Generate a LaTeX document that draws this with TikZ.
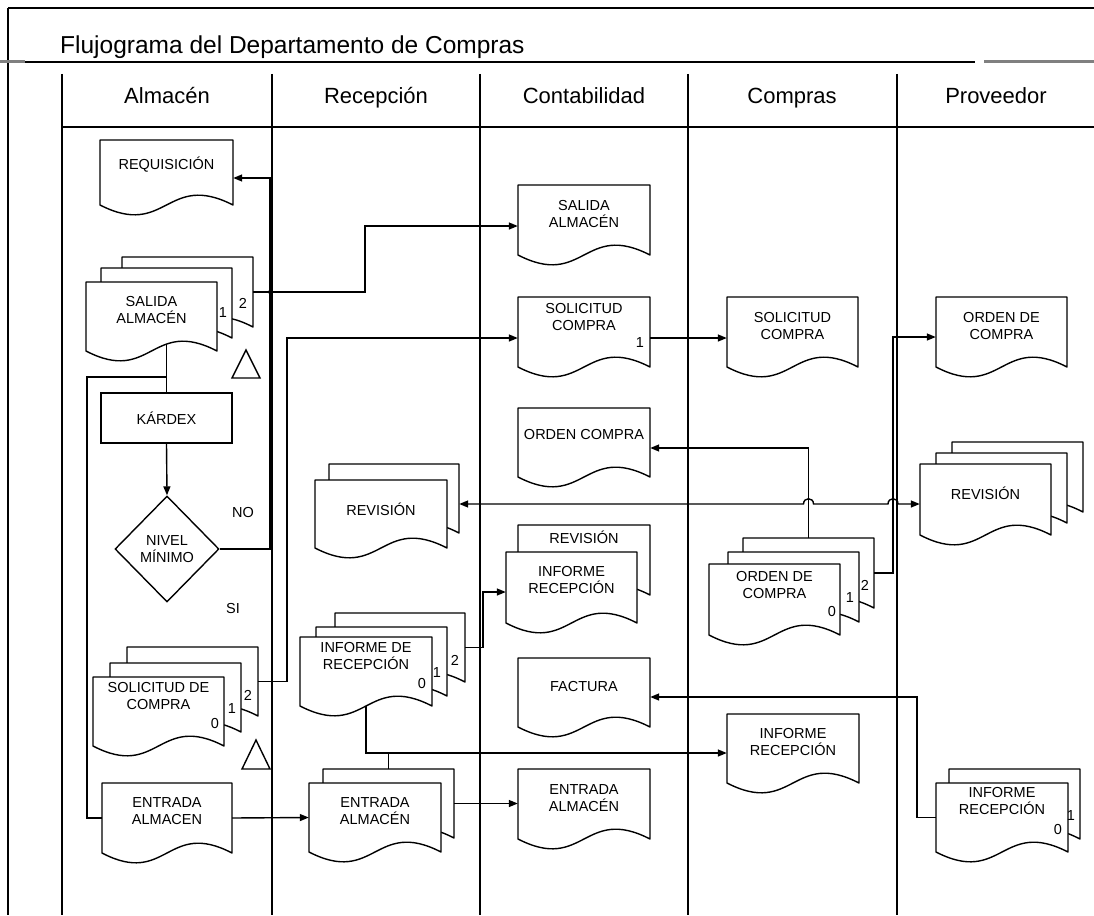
\documentclass[tikz,border=0pt]{standalone}
\usepackage{fontspec}
\setmainfont{Liberation Sans}
\usetikzlibrary{arrows.meta,calc,fit,shapes.geometric}

\tikzset{
  lane/.style={line width=1.8pt},
  pg/.style={line width=1.4pt,fill=white,line join=round},
  pgtext/.style={font=\fontsize{14.5}{17}\selectfont,align=center,inner sep=0pt},
  num/.style={font=\fontsize{14.5}{14.5}\selectfont,inner sep=0pt},
  flow/.style={line width=1.4pt},
  arr/.style={flow,-{Triangle[length=9pt,width=7pt]}},
  dblarr/.style={flow,{Triangle[length=9pt,width=7pt]}-{Triangle[length=9pt,width=7pt]}},
  hdr/.style={font=\fontsize{22}{22}\selectfont,inner sep=0pt,anchor=base},
  kbox/.style={draw,line width=1.4pt,minimum width=131pt,minimum height=50pt,font=\fontsize{14.5}{17}\selectfont},
  dmd/.style={draw,diamond,aspect=1,line width=1.4pt,minimum width=104pt,minimum height=106pt,inner sep=0pt,align=center,font=\fontsize{14.5}{17}\selectfont},
}

\newcommand{\docpg}[7][28]{%
  \draw[pg] (#3,#4) -- (#5,#4) -- (#5,#6)
    .. controls ({(#3+#5)/2},{#6-34}) and ({(#3+#5)/2},{#6+34}) .. (#3,#6) -- cycle;
  \node[fit={(#3,#4) (#5,#6)},inner sep=0pt] (#2) {};
  \node[pgtext] (#2-t) at ($(#2.north)+(0,#1)$) {#7};
}

\begin{document}
\begin{tikzpicture}[x=1pt,y=-1pt]
\useasboundingbox (0,0) rectangle (1094,915);

\draw[lane] (8,8) -- (1094,8);
\draw[lane] (8,8) -- (8,915);
\draw[line width=1.2pt] (25,62) -- (975,62);
\draw[gray,line width=3pt] (0,62) -- (25,62);
\draw[gray,line width=3pt] (984,62) -- (1094,62);
\foreach \x in {62,272,480,688,897}
  \draw[lane] (\x,74) -- (\x,915);
\draw[lane] (62,127) -- (1094,127);

\node[font=\fontsize{24.5}{24.5}\selectfont,anchor=base west,inner sep=0pt] (title) at (60,54) {Flujograma del Departamento de Compras};
\node[hdr] (h-alm) at (167,104) {Almacén};
\node[hdr] (h-rec) at (376,104) {Recepción};
\node[hdr] (h-con) at (584,104) {Contabilidad};
\node[hdr] (h-com) at (792,104) {Compras};
\node[hdr] (h-pro) at (996,104) {Proveedor};

\docpg[25]{req}{100}{140}{233}{205}{REQUISICIÓN}
\docpg{salA-c2}{122}{257}{253}{327}{}
\docpg{salA-c1}{101}{268}{232}{338}{}
\docpg{salA}{86}{282}{217}{351}{SALIDA\\ALMACÉN}
\node[num] (salA-n1) at (223,313) {1};
\node[num] (salA-n2) at (243,303) {2};
\node[kbox] (kardex) at (166.5,418) {KÁRDEX};
\node[dmd] (nivel) at (167,549) {NIVEL\\MÍNIMO};
\node[pgtext] (no-lbl) at (243,513) {NO};
\node[pgtext] (si-lbl) at (233,609) {SI};
\docpg{solD-c2}{127}{647}{258}{716}{}
\docpg{solD-c1}{110}{663}{241}{732}{}
\docpg[19]{solD}{93}{677}{224}{746}{SOLICITUD DE\\COMPRA}
\node[num] (solD-n2) at (248,695) {2};
\node[num] (solD-n1) at (232,709) {1};
\node[num] (solD-n0) at (215,723) {0};
\docpg{entA}{102}{783}{232}{853}{ENTRADA\\ALMACEN}
\draw[flow] (232,378) -- (260,378) -- (246,350) -- cycle;
\draw[flow] (242,769) -- (270,769) -- (256,740) -- cycle;

\docpg{revR-c1}{329}{464}{459}{533}{}
\docpg[29]{revR}{315}{480}{447}{548}{REVISIÓN}
\docpg{infR-c2}{335}{613}{465}{682}{}
\docpg{infR-c1}{316}{627}{447}{696}{}
\docpg[19]{infR}{300}{637}{432}{706}{INFORME DE\\RECEPCIÓN}
\node[num] (infR-n2) at (455,660) {2};
\node[num] (infR-n1) at (437,673) {1};
\node[num] (infR-n0) at (422,684) {0};
\docpg{entR-c1}{323}{769}{454}{838}{}
\docpg{entR}{309}{783}{441}{852}{ENTRADA\\ALMACÉN}

\docpg[29]{salC}{518}{185}{650}{255}{SALIDA\\ALMACÉN}
\docpg[20]{solC}{518}{297}{650}{367}{SOLICITUD\\COMPRA}
\node[num] (solC-n1) at (640,343) {1};
\docpg[27]{ordC}{518}{408}{650}{477}{ORDEN COMPRA}
\docpg[12]{infC-c1}{518}{525}{650}{595}{REVISIÓN}
\docpg{infC}{506}{552}{637}{623}{INFORME\\RECEPCIÓN}
\docpg[29]{fact}{518}{658}{650}{727}{FACTURA}
\docpg[29]{entC}{518}{769}{650}{839}{ENTRADA\\ALMACÉN}

\docpg[29]{solCo}{727}{297}{858}{367}{SOLICITUD\\COMPRA}
\docpg{odc-c2}{743}{538}{874}{608}{}
\docpg{odc-c1}{728}{552}{859}{622}{}
\docpg[21]{odc}{709}{564}{840}{635}{ORDEN DE\\COMPRA}
\node[num] (odc-n2) at (865,585) {2};
\node[num] (odc-n1) at (850,598) {1};
\node[num] (odc-n0) at (832,612) {0};
\docpg{infCo}{727}{714}{859}{783}{INFORME\\RECEPCIÓN}

\docpg[29]{ordP}{936}{297}{1067}{367}{ORDEN DE\\COMPRA}
\docpg{revP-c2}{952}{442}{1083}{512}{}
\docpg{revP-c1}{936}{453}{1067}{523}{}
\docpg[29]{revP}{920}{464}{1051}{535}{REVISIÓN}
\docpg{infP-c1}{949}{769}{1080}{839}{}
\docpg[18]{infP}{936}{783}{1068}{852}{INFORME\\RECEPCIÓN}
\node[num] (infP-n1) at (1071,816) {1};
\node[num] (infP-n0) at (1058,829) {0};

\coordinate (no-up) at (270,178);
\draw[arr] (nivel.east) -| (no-up) -- (no-up -| req.east);
\coordinate (sal-bend) at (365,226);
\draw[arr] (salA-c2.east) -| (sal-bend) -- (sal-bend -| salC.west);
\fill (no-up |- salA-c2.east) circle (2);
\draw[flow] ($(salA.south -| kardex.north)+(0,-6)$) -- (kardex.north);
\coordinate (loop) at (87,377);
\draw[flow] (loop -| kardex.north) -- (loop) |- (entA.west);
\draw[arr] (kardex.south) -- (nivel.north);
\coordinate (sol-bend) at (287,338);
\draw[arr] (solD-c2.east) -| (sol-bend) -- (sol-bend -| solC.west);
\draw[arr] (entA.east) -- (entR.west);
\draw[arr] (entR-c1.east) -- (entR-c1.east -| entC.west);
\coordinate (inf-bend) at (483,592);
\draw[arr] (infR-c2.east) -| (inf-bend) -- (inf-bend -| infC.west);
\coordinate (inf-low) at (366,753);
\draw[arr] (infR.south) -- (inf-low) -- (inf-low -| infCo.west);
\draw[flow] (entR-c1.north |- inf-low) -- (entR-c1.north);
\draw[arr] (solC.east |- sol-bend) -- (solCo.west |- sol-bend);
\coordinate (ord-up) at (808,448);
\draw[arr] (odc-c2.north) |- (ord-up -| ordC.east);
\coordinate (odc-bend) at (893,337);
\draw[arr] (odc-c2.east) -| (odc-bend) -- (odc-bend -| ordP.west);
\coordinate (rev-line) at (459,504);
\coordinate (hop1) at (odc-c2.north |- rev-line);
\coordinate (hop2) at (odc-bend |- rev-line);
\draw[dblarr] (revR-c1.east |- rev-line) -- ($(hop1)+(-5,0)$)
  .. controls ($(hop1)+(-5,-7)$) and ($(hop1)+(5,-7)$) .. ($(hop1)+(5,0)$)
  -- ($(hop2)+(-5,0)$)
  .. controls ($(hop2)+(-5,-7)$) and ($(hop2)+(5,-7)$) .. ($(hop2)+(5,0)$)
  -- (rev-line -| revP.west);
\coordinate (fac-bend) at (917,697);
\draw[arr] (infP.west) -| (fac-bend) -- (fac-bend -| fact.east);
\end{tikzpicture}
\end{document}
